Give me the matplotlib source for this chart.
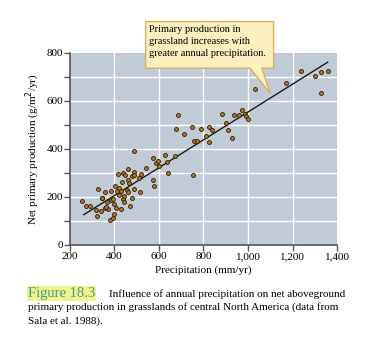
import numpy as np
import matplotlib
matplotlib.use('Agg')
import matplotlib.pyplot as plt
from matplotlib.patches import Polygon

# precipitation (mm/yr) and net primary production (g/m2/yr)
precip = [254, 274, 292, 318, 322, 325, 340, 345, 358, 357, 366, 373, 380, 385, 385,
          393, 395, 400, 398, 403, 409, 413, 416, 419, 421, 430, 430, 434, 437, 440,
          442, 443, 449, 455, 460, 460, 461, 466, 470, 478, 479, 488, 489, 489, 488,
          510, 515, 521, 543, 572, 573, 576, 585, 594, 600, 628, 634, 642, 672, 675,
          685, 713, 749, 754, 757, 770, 791, 810, 824, 824, 839, 882, 899, 912, 930,
          937, 961, 975, 986, 993, 1002, 1030, 1172, 1237, 1303, 1328, 1328, 1361,
          343, 361]
npp = [183, 161, 164, 147, 120, 233, 141, 195, 220, 154, 179, 150, 105, 226, 189,
       193, 114, 130, 172, 244, 154, 225, 294, 239, 208, 151, 226, 261, 190, 300,
       203, 178, 289, 228, 318, 220, 272, 257, 161, 195, 286, 390, 304, 291, 233,
       279, 220, 294, 320, 361, 270, 245, 340, 348, 329, 375, 344, 300, 370, 482,
       540, 461, 490, 293, 433, 433, 482, 454, 490, 427, 480, 544, 508, 479, 443,
       540, 541, 561, 543, 536, 525, 648, 675, 722, 702, 720, 633, 725,
       197, 157]

# regression line end points
line_x = [262, 1358]
line_y = [126, 760]

xticks = [200, 400, 600, 800, 1000, 1200, 1400]
xtick_labels = ['200', '400', '600', '800', '1,000', '1,200', '1,400']
yticks = [0, 200, 400, 600, 800]

plt.rcParams['font.family'] = ['Liberation Serif', 'DejaVu Serif']

fig = plt.figure(figsize=(3.72, 3.37), dpi=100)
ax = fig.add_axes([0.188, 0.273, 0.718, 0.571])
ax.set_facecolor('#c1cad7')

ax.set_xlim(200, 1400)
ax.set_ylim(0, 800)
ax.set_xticks(xticks)
ax.set_xticklabels(xtick_labels)
ax.set_yticks(yticks)
ax.set_yticks(np.arange(0, 801, 100), minor=True)

for v in xticks[1:-1]:
    ax.axvline(v, color='white', lw=1.0, zorder=1)
for v in np.arange(100, 800, 100):
    ax.axhline(v, color='white', lw=1.0, zorder=1)

for s in ['top', 'right']:
    ax.spines[s].set_visible(False)
for s in ['left', 'bottom']:
    ax.spines[s].set_color('#555555')
    ax.spines[s].set_linewidth(1.2)

ax.tick_params(axis='both', which='major', length=4, width=1, color='#555555',
               labelsize=8, pad=1)
ax.tick_params(axis='y', which='minor', length=4, width=1, color='#555555')

ax.plot(line_x, line_y, color='#1a1a1a', lw=1.0, zorder=3)
ax.scatter(precip, npp, s=8, color='#b07a1e', edgecolors='#2a1a05', linewidths=0.6,
           zorder=4)

ax.set_xlabel('Precipitation (mm/yr)', fontsize=8, labelpad=3)
ax.set_ylabel('Net primary production (g/m$^2$/yr)', fontsize=8, labelpad=3)

# callout box with pointer
bx0, bx1, by0, by1 = 540, 1115, 735, 929
callout = Polygon([(bx0, by0), (bx0, by1), (bx1, by1), (bx1, by0), (1062, by0),
                   (1100, 630), (1009, by0)], closed=True, facecolor='#fdf0bf',
                  edgecolor='#d9ae5c', lw=1.0, clip_on=False, zorder=5)
ax.add_patch(callout)
ax.text(556, 915, 'Primary production in\ngrassland increases with\ngreater annual precipitation.',
        fontsize=7.5, va='top', ha='left', linespacing=1.4, zorder=6, clip_on=False)

fig.text(0.074, 0.119, 'Figure 18.3', fontsize=10.5, color='#3f9a8c', va='baseline',
         bbox=dict(facecolor='#eef38c', edgecolor='none', pad=0.6))
fig.text(0.293, 0.119, 'Influence of annual precipitation on net aboveground',
         fontsize=8.0, va='baseline')
fig.text(0.074, 0.080, 'primary production in grasslands of central North America (data from',
         fontsize=8.0, va='baseline')
fig.text(0.074, 0.039, 'Sala et al. 1988).', fontsize=8.0, va='baseline')

fig.savefig('out.png', dpi=100)
